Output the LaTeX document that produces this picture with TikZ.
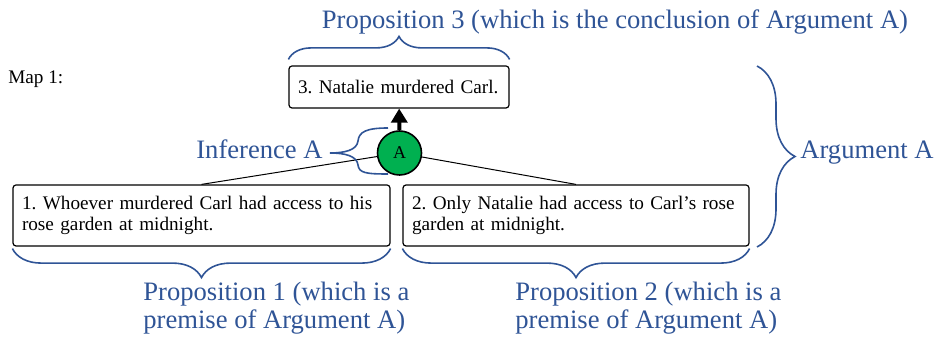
\documentclass[tikz,border=0pt]{standalone}
\usepackage{fontspec}
\setmainfont{Liberation Serif}
\usetikzlibrary{arrows.meta, decorations.pathreplacing}

\definecolor{mapblue}{RGB}{47,84,150}
\definecolor{infgreen}{RGB}{0,176,80}

\tikzset{
  stmt/.style={draw, rounded corners=1.5pt, line width=0.6pt, align=left,
    inner xsep=4.5pt, inner ysep=0pt, font=\fontsize{9.6pt}{10.2pt}\selectfont\frenchspacing},
  inf/.style={circle, draw, fill=infgreen, line width=0.8pt, minimum size=22pt,
    inner sep=0pt, font=\fontsize{9pt}{10pt}\selectfont},
  brc/.style={draw=mapblue, line width=0.8pt, decorate, decoration={brace, amplitude=#1}},
  lbl/.style={text=mapblue, inner sep=0pt, align=left, font=\fontsize{13.3pt}{14pt}\selectfont}
}

\begin{document}
\begin{tikzpicture}[x=0.5pt, y=-0.5pt]
  \useasboundingbox (0,0) rectangle (937,341);

  \node[anchor=base west, inner sep=0pt, font=\fontsize{9.6pt}{10.2pt}\selectfont] (map) at (8,84) {Map 1:};

  % propositions
  \node[stmt, text width=101pt, minimum height=21pt] (c3) at (399,87) {3. Natalie murdered Carl.};
  \node[stmt, text width=179.5pt, minimum height=30.5pt] (p1) at (201.5,215.5)
    {1. Whoever murdered Carl had access to his\\rose garden at midnight.};
  \node[stmt, text width=164pt, minimum height=30.5pt] (p2) at (576,215.5)
    {2. Only Natalie had access to Carl’s rose\\garden at midnight.};

  % inference
  \node[inf] (infA) at (399.5,153) {A};
  \draw[line width=2pt, -{Triangle[width=8pt, length=7pt]}] (infA) -- (c3);
  \draw[line width=0.5pt] (infA) -- (p1.north);
  \draw[line width=0.5pt] (infA) -- (p2.north);

  % braces
  \draw[brc=11.5pt] ([yshift=3pt]c3.north west) -- ([yshift=3pt]c3.north east);
  \draw[brc=14.5pt] ([yshift=-1pt]p1.south east) -- ([yshift=-1pt]p1.south west);
  \draw[brc=14.5pt] ([yshift=-1pt]p2.south east) -- ([yshift=-1pt]p2.south west);
  \draw[brc=19pt] (757,66) -- (757,247);
  \draw[draw=mapblue, line width=0.8pt] (388,128) .. controls (366,128) and (359,132) .. (358,141)
    .. controls (357,150) and (345,153) .. (330,153)
    .. controls (345,153) and (357,156) .. (358,165)
    .. controls (359,173) and (366,174) .. (388,174);

  % labels
  \node[lbl, anchor=base] (l3) at (615,29) {Proposition 3 (which is the conclusion of Argument A)};
  \node[lbl, anchor=base east] (lInf) at (323,159) {Inference A};
  \node[lbl, anchor=base west] (lArg) at (800,159) {Argument A};
  \node[lbl, anchor=north west] (l1) at (143,282) {Proposition 1 (which is a\\premise of Argument A)};
  \node[lbl, anchor=north west] (l2) at (515,282) {Proposition 2 (which is a\\premise of Argument A)};
\end{tikzpicture}
\end{document}
